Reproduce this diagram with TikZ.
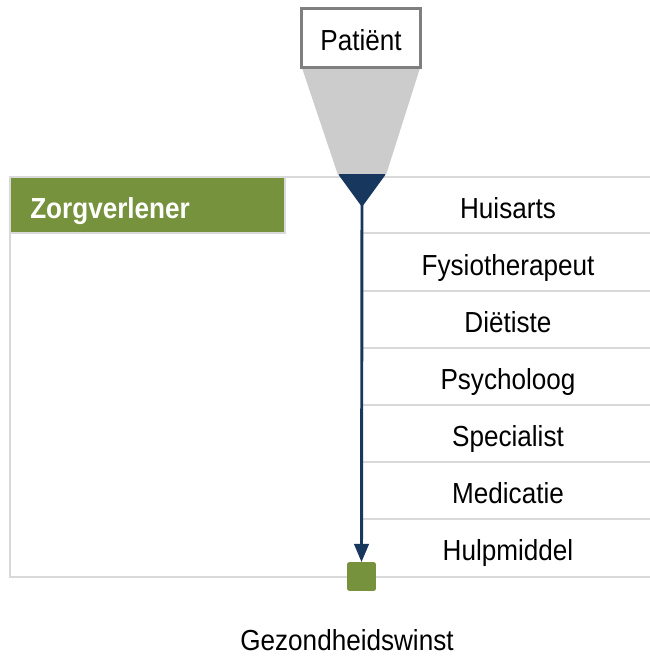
\documentclass[tikz,border=0pt]{standalone}
\usepackage{fontspec}
\setmainfont{Liberation Sans}[FakeStretch=0.9]
\usepackage{xcolor}
\usepackage{tikz}
\usetikzlibrary{shapes, arrows, positioning}

\definecolor{groen}{HTML}{76923C}
\definecolor{navy}{HTML}{17375E}
\definecolor{lijngrijs}{HTML}{D9D9D9}
\definecolor{trechter}{HTML}{CCCCCC}
\definecolor{randgrijs}{HTML}{7F7F7F}

\tikzset{
	tekst/.style={font=\fontsize{21.75}{26}\selectfont, inner sep=0pt},
	rij/.style={tekst, anchor=base},
	scheiding/.style={draw=lijngrijs, line width=1.5pt},
	pijl/.style={draw=navy, line width=2.2pt, -triangle 45}
}

\begin{document}
\begin{tikzpicture}[x=0.75pt, y=-0.75pt]
			\useasboundingbox (0,0) rectangle (650,658);
			% frame
			\draw[scheiding] (285,177) -- (650,177);
			\draw[scheiding] (10,177) -- (10,577) -- (650,577);
			\foreach \y in {233,291,348,405,462,519}
				\draw[scheiding] (362,\y) -- (650,\y);
			% funnel
			\fill[trechter] (302,68) -- (420,68) -- (386,175) -- (338,175) -- cycle;
			\node[draw=randgrijs, line width=2.2pt, fill=white, minimum width=89pt, minimum height=44pt, inner sep=0pt] at (361,38) (patient) {};
			\node[rij] at (361,50.4) (patientlabel) {Patiënt};
			\fill[navy, rounded corners=1pt] (338,174) -- (386,174) -- (362,207) -- cycle;
			\coordinate (tip) at (362,205);
			% header
			\node[draw=lijngrijs, line width=1.5pt, fill=groen, minimum width=206pt, minimum height=42pt, inner sep=0pt] at (147.5,205) (kop) {};
			\node[tekst, text=white, font=\fontsize{21.75}{26}\selectfont\bfseries, anchor=base west] at (30,218.4) (koplabel) {Zorgverlener};
			% rows
			\node[rij] at (508,218.4) (huisarts) {Huisarts};
			\node[rij] at (508,275.4) (fysio) {Fysiotherapeut};
			\node[rij] at (508,332.4) (dietiste) {Diëtiste};
			\node[rij] at (508,389.4) (psycholoog) {Psycholoog};
			\node[rij] at (508,446.4) (specialist) {Specialist};
			\node[rij] at (508,503.4) (medicatie) {Medicatie};
			\node[rij] at (508,560.4) (hulpmiddel) {Hulpmiddel};
			% outcome
			\node[fill=groen, minimum size=21.5pt, inner sep=0pt, rounded corners=1.5pt] at (361.5,576.5) (winst) {};
			\node[rij] at (347,650) (winstlabel) {Gezondheidswinst};
			\draw[pijl] (tip) -- (winst.north);
		\end{tikzpicture}
\end{document}
